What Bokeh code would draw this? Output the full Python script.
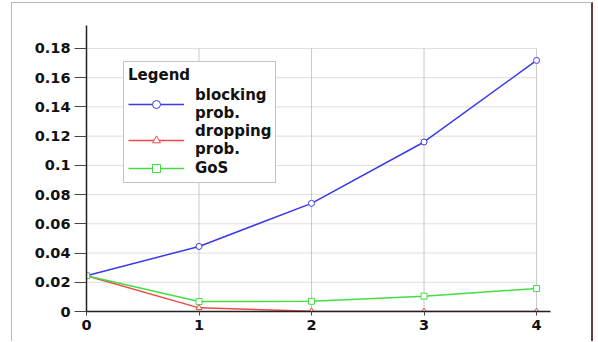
from bokeh.plotting import figure
from bokeh.models import Range1d, FixedTicker, Legend, LegendItem
from bokeh.embed import file_html
from bokeh.resources import INLINE

# Load levels on the x axis and measured probabilities per series
x_vals = [0, 1, 2, 3, 4]
blocking_prob = [0.0245, 0.0445, 0.074, 0.116, 0.1718]
dropping_prob = [0.0245, 0.0025, 0.0002, 0.0, 0.0]
gos = [0.0245, 0.0068, 0.007, 0.0105, 0.0157]

x_ticks = [0, 1, 2, 3, 4]
y_ticks = [0, 0.02, 0.04, 0.06, 0.08, 0.1, 0.12, 0.14, 0.16, 0.18]
y_tick_labels = ["0", "0.02", "0.04", "0.06", "0.08", "0.1", "0.12", "0.14", "0.16", "0.18"]

FONT = "DejaVu Sans"

# Figure sits inside a thin page frame drawn with CSS borders
p = figure(width=582, height=339, output_backend="svg", toolbar_location=None,
           x_range=Range1d(0, 4.124), y_range=Range1d(0, 0.1957),
           min_border_left=74, min_border_right=44, min_border_top=22, min_border_bottom=31)
p.margin = (2, 4, 0, 11)
p.styles = {
    "border-left": "1px solid #b8bcbc",
    "border-top": "1px solid #b8bcbc",
    "border-right": "2px solid #6b3b3b",
}
p.outline_line_color = None
p.background_fill_color = "white"
p.border_fill_color = "white"
p.xgrid.visible = False
p.ygrid.visible = False

# Grid limited to the tick domain
gx_top = max(y_ticks)
gy_right = max(x_ticks)
p.segment(x0=x_ticks[1:], y0=[0] * (len(x_ticks) - 1), x1=x_ticks[1:], y1=[gx_top] * (len(x_ticks) - 1),
          line_color="#c4ccd0", line_width=1)
p.segment(x0=[0] * (len(y_ticks) - 1), y0=y_ticks[1:], x1=[gy_right] * (len(y_ticks) - 1), y1=y_ticks[1:],
          line_color="#bdbdbd", line_width=1, line_dash="1 1")

for ax in (p.xaxis[0], p.yaxis[0]):
    ax.axis_line_color = "#222222"
    ax.axis_line_width = 1.5
    ax.major_tick_line_color = "#444444"
    ax.minor_tick_line_color = None
    ax.major_tick_in = 0
    ax.major_label_text_font = FONT
    ax.major_label_text_font_style = "bold"
    ax.major_label_text_font_size = "14.5px"
    ax.major_label_text_color = "#111111"

p.xaxis.ticker = FixedTicker(ticks=x_ticks)
p.xaxis.major_tick_out = 4
p.xaxis.major_label_standoff = 4
p.yaxis.ticker = FixedTicker(ticks=y_ticks)
p.yaxis.major_label_overrides = {t: s for t, s in zip(y_ticks, y_tick_labels)}
p.yaxis.major_tick_out = 12
p.yaxis.major_label_standoff = 4

blue, red, green = "#3a3ae8", "#ee4a4a", "#44dd44"

l1 = p.line(x_vals, blocking_prob, line_color=blue, line_width=1.5)
m1 = p.scatter(x_vals, blocking_prob, marker="circle", size=6, line_color=blue, fill_color="white")
l2 = p.line(x_vals, dropping_prob, line_color=red, line_width=1.5)
m2 = p.scatter(x_vals, dropping_prob, marker="triangle", size=6, line_color=red, fill_color="white")
l3 = p.line(x_vals, gos, line_color=green, line_width=1.5)
m3 = p.scatter(x_vals, gos, marker="square", size=6, line_color=green, fill_color="white")

legend = Legend(items=[
    LegendItem(label="blocking\nprob.", renderers=[l1, m1]),
    LegendItem(label="dropping\nprob.", renderers=[l2, m2]),
    LegendItem(label="GoS", renderers=[l3, m3]),
], location=(37, 128))
legend.title = "Legend"
legend.title_text_font = FONT
legend.title_text_font_style = "bold"
legend.title_text_font_size = "15px"
legend.title_text_color = "#111111"
legend.title_standoff = 2
legend.label_text_font = FONT
legend.label_text_font_style = "bold"
legend.label_text_font_size = "15px"
legend.label_text_color = "#111111"
legend.label_text_line_height = 1.1
legend.glyph_width = 56
legend.label_standoff = 11
legend.spacing = 0
legend.padding = 4
legend.margin = 0
legend.border_line_color = "#888888"
legend.border_line_width = 1
legend.background_fill_color = "white"
legend.background_fill_alpha = 1
p.add_layout(legend, "center")

open("out.html", "w").write(file_html(p, INLINE))
